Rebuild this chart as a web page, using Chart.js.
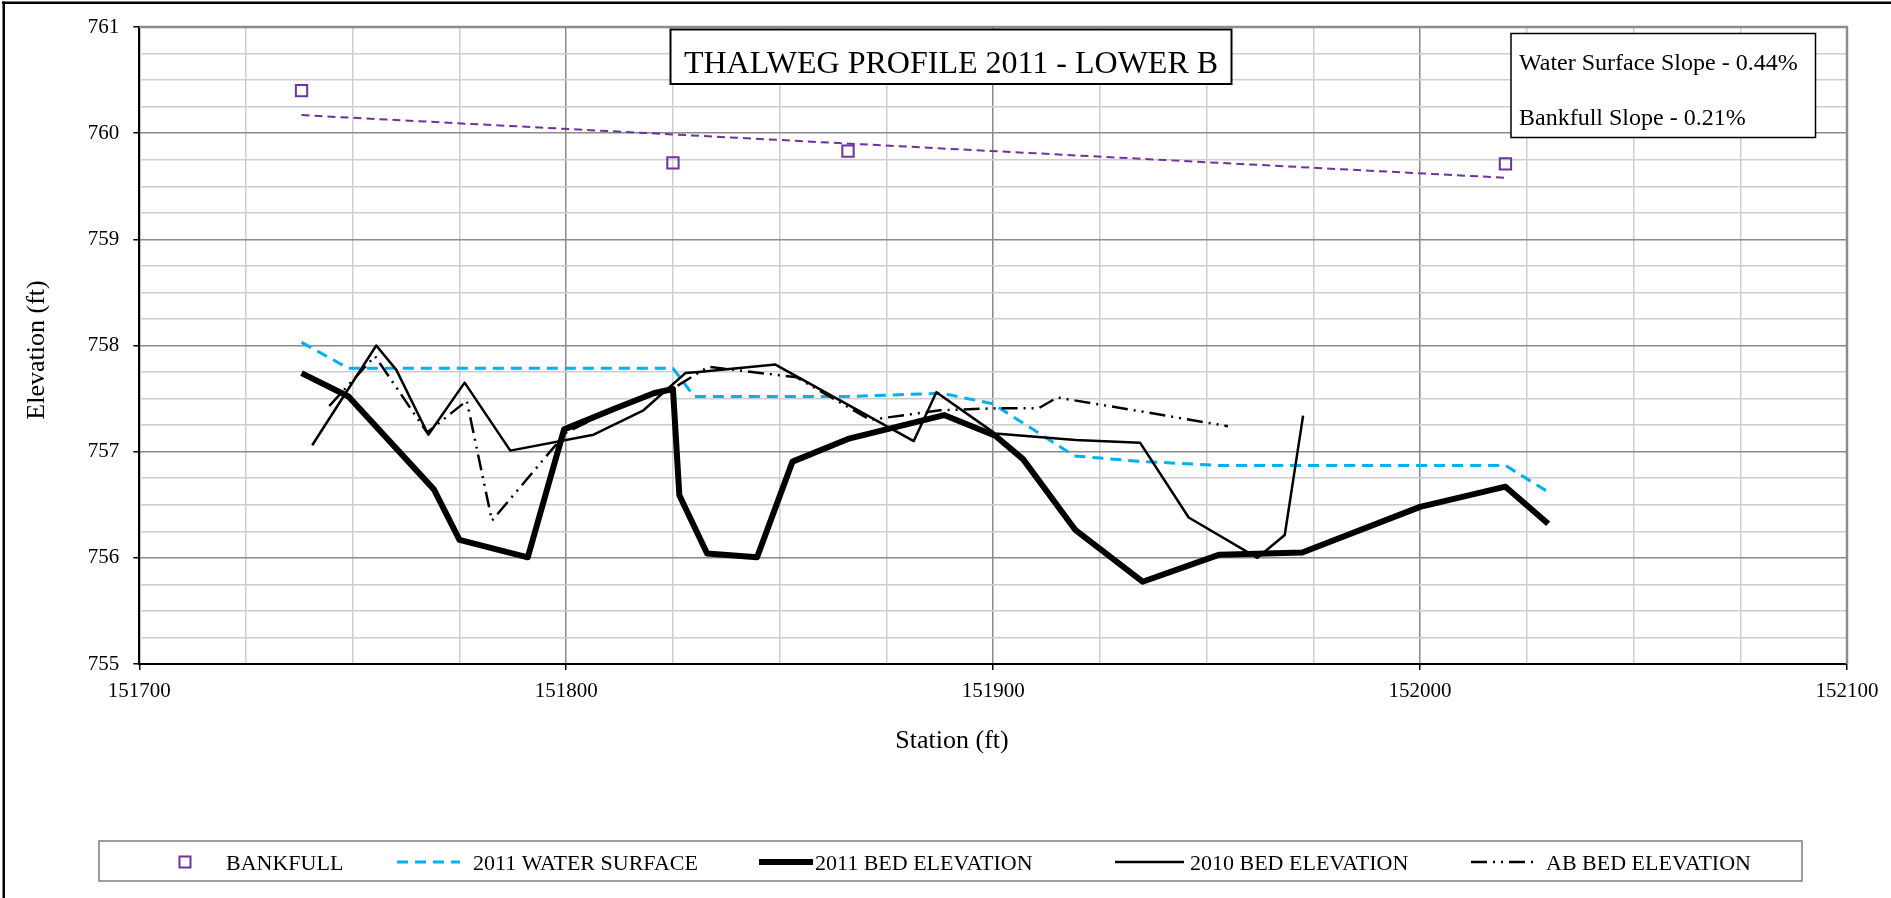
<!DOCTYPE html>
<html>
<head>
<meta charset="utf-8">
<script src="https://cdn.jsdelivr.net/npm/chart.js@4.4.1/dist/chart.umd.min.js"></script>
<style>
  html, body { margin: 0; background: #fff; }
  canvas { display: block; }
</style>
</head>
<body>
<canvas id="profile" width="1891" height="898"></canvas>
<script>
// ── Data ──────────────────────────────────────────────────
const bankfullStation = [151738, 151825, 151866, 152020];
const bankfullElev    = [760.40, 759.72, 759.83, 759.71];

// bankfull trendline (end points as drawn)
const trendStation = [151738, 152020];
const trendElev    = [760.17, 759.58];

const wsStation = [151738, 151749, 151825, 151830, 151866, 151888, 151900, 151919, 151934, 151953, 152020, 152030];
const wsElev    = [758.03, 757.785, 757.785, 757.52, 757.52, 757.55, 757.45, 756.96, 756.91, 756.87, 756.87, 756.62];

const bed2011Station = [151738, 151749, 151769, 151775, 151791, 151799.5, 151811, 151820.5, 151825, 151826.5,
                        151833, 151844.7, 151853, 151866, 151888.5, 151900.5, 151907, 151919.3, 151935, 151953,
                        151972.4, 152000, 152020, 152030];
const bed2011Elev    = [757.74, 757.52, 756.645, 756.17, 756.005, 757.21, 757.40, 757.55, 757.59, 756.59,
                        756.04, 756.005, 756.906, 757.12, 757.345, 757.15, 756.93, 756.26, 755.775, 756.03,
                        756.05, 756.48, 756.67, 756.32];

const bed2010Station = [151740.5, 151755.5, 151760.2, 151767.7, 151776.2, 151786.9, 151806.4, 151818.1, 151827.9, 151831,
                        151849, 151881.4, 151886.7, 151900.5, 151919.3, 151934.4, 151945.8, 151961.9, 151968.3, 151972.6];
const bed2010Elev    = [757.06, 758.0, 757.77, 757.16, 757.65, 757.01, 757.16, 757.39, 757.74, 757.75,
                        757.82, 757.10, 757.56, 757.17, 757.11, 757.085, 756.38, 756.0, 756.215, 757.34];

const abStation = [151744.5, 151755.2, 151767.4, 151776.7, 151782.6, 151800, 151811, 151820.5, 151826, 151833.3,
                   151854, 151871.2, 151887.6, 151901.7, 151910.7, 151915, 151934.5, 151955];
const abElev    = [757.43, 757.90, 757.18, 757.48, 756.35, 757.18, 757.40, 757.55, 757.62, 757.80,
                   757.70, 757.30, 757.39, 757.41, 757.41, 757.51, 757.38, 757.24];

const xMin = 151700, xMax = 152100, xStep = 25, xMajor = 100;
const yMin = 755, yMax = 761, yStep = 0.25;

const TITLE = 'THALWEG PROFILE 2011 - LOWER B';
const SLOPE_NOTES = ['Water Surface Slope - 0.44%', 'Bankfull Slope - 0.21%'];
const X_TITLE = 'Station (ft)';
const Y_TITLE = 'Elevation (ft)';

// ── Helpers ───────────────────────────────────────────────
const SERIF = '"Liberation Serif", "Times New Roman", serif';
const PURPLE = '#7030a0', CYAN = '#00b0f0';
const pts = (xs, ys) => xs.map((x, i) => ({x, y: ys[i]}));
const isMajorX = v => Math.abs(v % xMajor) < 1e-6;
const isMajorY = v => Math.abs(v - Math.round(v)) < 1e-6;

function box(ctx, x, y, w, h, lw) {
  ctx.fillStyle = '#fff';
  ctx.fillRect(x, y, w, h);
  ctx.strokeStyle = '#000';
  ctx.lineWidth = lw;
  ctx.strokeRect(x, y, w, h);
}

// ── Decorations: frame, title boxes, axis titles, legend ──
const decor = {
  id: 'decor',
  beforeDraw(chart) {
    const {ctx} = chart;
    ctx.save();
    ctx.fillStyle = '#fff';
    ctx.fillRect(0, 0, chart.width, chart.height);
    ctx.restore();
  },
  afterDraw(chart) {
    const {ctx, chartArea: a} = chart;
    ctx.save();

    // plot area top/right edge
    ctx.strokeStyle = '#8c8c8c';
    ctx.lineWidth = 2.5;
    ctx.beginPath();
    ctx.moveTo(a.left, a.top);
    ctx.lineTo(a.right, a.top);
    ctx.lineTo(a.right, a.bottom);
    ctx.stroke();

    // outer frame (top + left)
    ctx.fillStyle = '#000';
    ctx.fillRect(2, 1.5, chart.width - 2, 2.5);
    ctx.fillRect(2.5, 1.5, 2.5, chart.height);

    // chart title
    box(ctx, 670.5, 29.5, 561, 54.5, 2);
    ctx.fillStyle = '#000';
    ctx.font = '32px ' + SERIF;
    ctx.textAlign = 'center';
    ctx.textBaseline = 'alphabetic';
    ctx.fillText(TITLE, 951, 72.5);

    // slope notes
    box(ctx, 1511, 33.5, 304.5, 104, 1.5);
    ctx.fillStyle = '#000';
    ctx.font = '24px ' + SERIF;
    ctx.textAlign = 'left';
    ctx.fillText(SLOPE_NOTES[0], 1519, 70);
    ctx.fillText(SLOPE_NOTES[1], 1519, 125);

    // axis titles
    ctx.font = '26px ' + SERIF;
    ctx.textAlign = 'center';
    ctx.fillText(X_TITLE, 952, 748);
    ctx.save();
    ctx.translate(44, 350);
    ctx.rotate(-Math.PI / 2);
    ctx.fillText(Y_TITLE, 0, 0);
    ctx.restore();

    // legend
    ctx.strokeStyle = '#7f7f7f';
    ctx.lineWidth = 1.5;
    ctx.strokeRect(99, 841, 1703, 40);
    const ly = 862;
    const items = [
      {i: 1, x0: 185, x1: 185, tx: 226},
      {i: 2, x0: 397, x1: 460, tx: 473},
      {i: 3, x0: 759, x1: 813, tx: 815},
      {i: 4, x0: 1115, x1: 1184, tx: 1190},
      {i: 5, x0: 1471, x1: 1538, tx: 1546},
    ];
    ctx.font = '22px ' + SERIF;
    ctx.textAlign = 'left';
    items.forEach(it => {
      const ds = chart.data.datasets[it.i];
      if (ds.showLine === false) {
        const s = 11;
        ctx.strokeStyle = ds.pointBorderColor;
        ctx.lineWidth = ds.pointBorderWidth;
        ctx.strokeRect(it.x0 - s / 2, ly - s / 2, s, s);
      } else {
        ctx.strokeStyle = ds.borderColor;
        ctx.lineWidth = ds.borderWidth;
        ctx.setLineDash(ds.borderDash || []);
        ctx.beginPath();
        ctx.moveTo(it.x0, ly);
        ctx.lineTo(it.x1, ly);
        ctx.stroke();
        ctx.setLineDash([]);
      }
      ctx.fillStyle = '#000';
      ctx.fillText(ds.label, it.tx, ly + 7.5);
    });

    ctx.restore();
  }
};

// ── Chart ─────────────────────────────────────────────────
const lineDefaults = {showLine: true, pointRadius: 0, tension: 0, fill: false,
                      borderJoinStyle: 'round', borderCapStyle: 'butt'};

new Chart(document.getElementById('profile'), {
  type: 'scatter',
  data: {
    datasets: [
      Object.assign({label: 'Bankfull trend', data: pts(trendStation, trendElev),
        borderColor: PURPLE, borderWidth: 2, borderDash: [8, 5], order: 6}, lineDefaults),
      {label: 'BANKFULL', data: pts(bankfullStation, bankfullElev), showLine: false,
        pointStyle: 'rect', pointRadius: 8, pointBorderWidth: 2,
        pointBorderColor: PURPLE, pointBackgroundColor: 'rgba(0,0,0,0)', order: 0},
      Object.assign({label: '2011 WATER SURFACE', data: pts(wsStation, wsElev),
        borderColor: CYAN, borderWidth: 3, borderDash: [11, 7], order: 5}, lineDefaults),
      Object.assign({label: '2011 BED ELEVATION', data: pts(bed2011Station, bed2011Elev),
        borderColor: '#000', borderWidth: 6, order: 4}, lineDefaults),
      Object.assign({label: '2010 BED ELEVATION', data: pts(bed2010Station, bed2010Elev),
        borderColor: '#000', borderWidth: 2.5, order: 3}, lineDefaults),
      Object.assign({label: 'AB BED ELEVATION', data: pts(abStation, abElev),
        borderColor: '#000', borderWidth: 2.5, borderDash: [16, 6, 2, 6, 2, 6], order: 2}, lineDefaults),
    ]
  },
  options: {
    responsive: false,
    animation: false,
    devicePixelRatio: 1,
    events: [],
    layout: {padding: {left: 0, top: 27, right: 44, bottom: 0}},
    plugins: {legend: {display: false}, tooltip: {enabled: false}},
    scales: {
      x: {
        type: 'linear', min: xMin, max: xMax,
        afterFit: s => { s.height = 234; },
        border: {color: '#000', width: 2},
        grid: {
          color: c => isMajorX(c.tick.value) ? '#8a8a8a' : '#cdcdcd',
          lineWidth: 1.5,
          tickColor: c => isMajorX(c.tick.value) ? '#000' : 'rgba(0,0,0,0)',
          tickLength: 6, tickWidth: 1.5
        },
        ticks: {
          stepSize: xStep, autoSkip: false, maxRotation: 0, padding: 9,
          color: '#000', font: {family: SERIF, size: 21},
          callback: v => isMajorX(v) ? String(v) : ''
        }
      },
      y: {
        min: yMin, max: yMax,
        afterFit: s => { s.width = 139.3; },
        border: {color: '#000', width: 2},
        grid: {
          color: c => isMajorY(c.tick.value) ? '#8a8a8a' : '#cdcdcd',
          lineWidth: 1.5,
          tickColor: c => isMajorY(c.tick.value) ? '#000' : 'rgba(0,0,0,0)',
          tickLength: 6, tickWidth: 1.5
        },
        ticks: {
          stepSize: yStep, autoSkip: false, padding: 14,
          color: '#000', font: {family: SERIF, size: 21},
          callback: v => isMajorY(v) ? String(Math.round(v)) : ''
        }
      }
    }
  },
  plugins: [decor]
});
</script>
</body>
</html>
